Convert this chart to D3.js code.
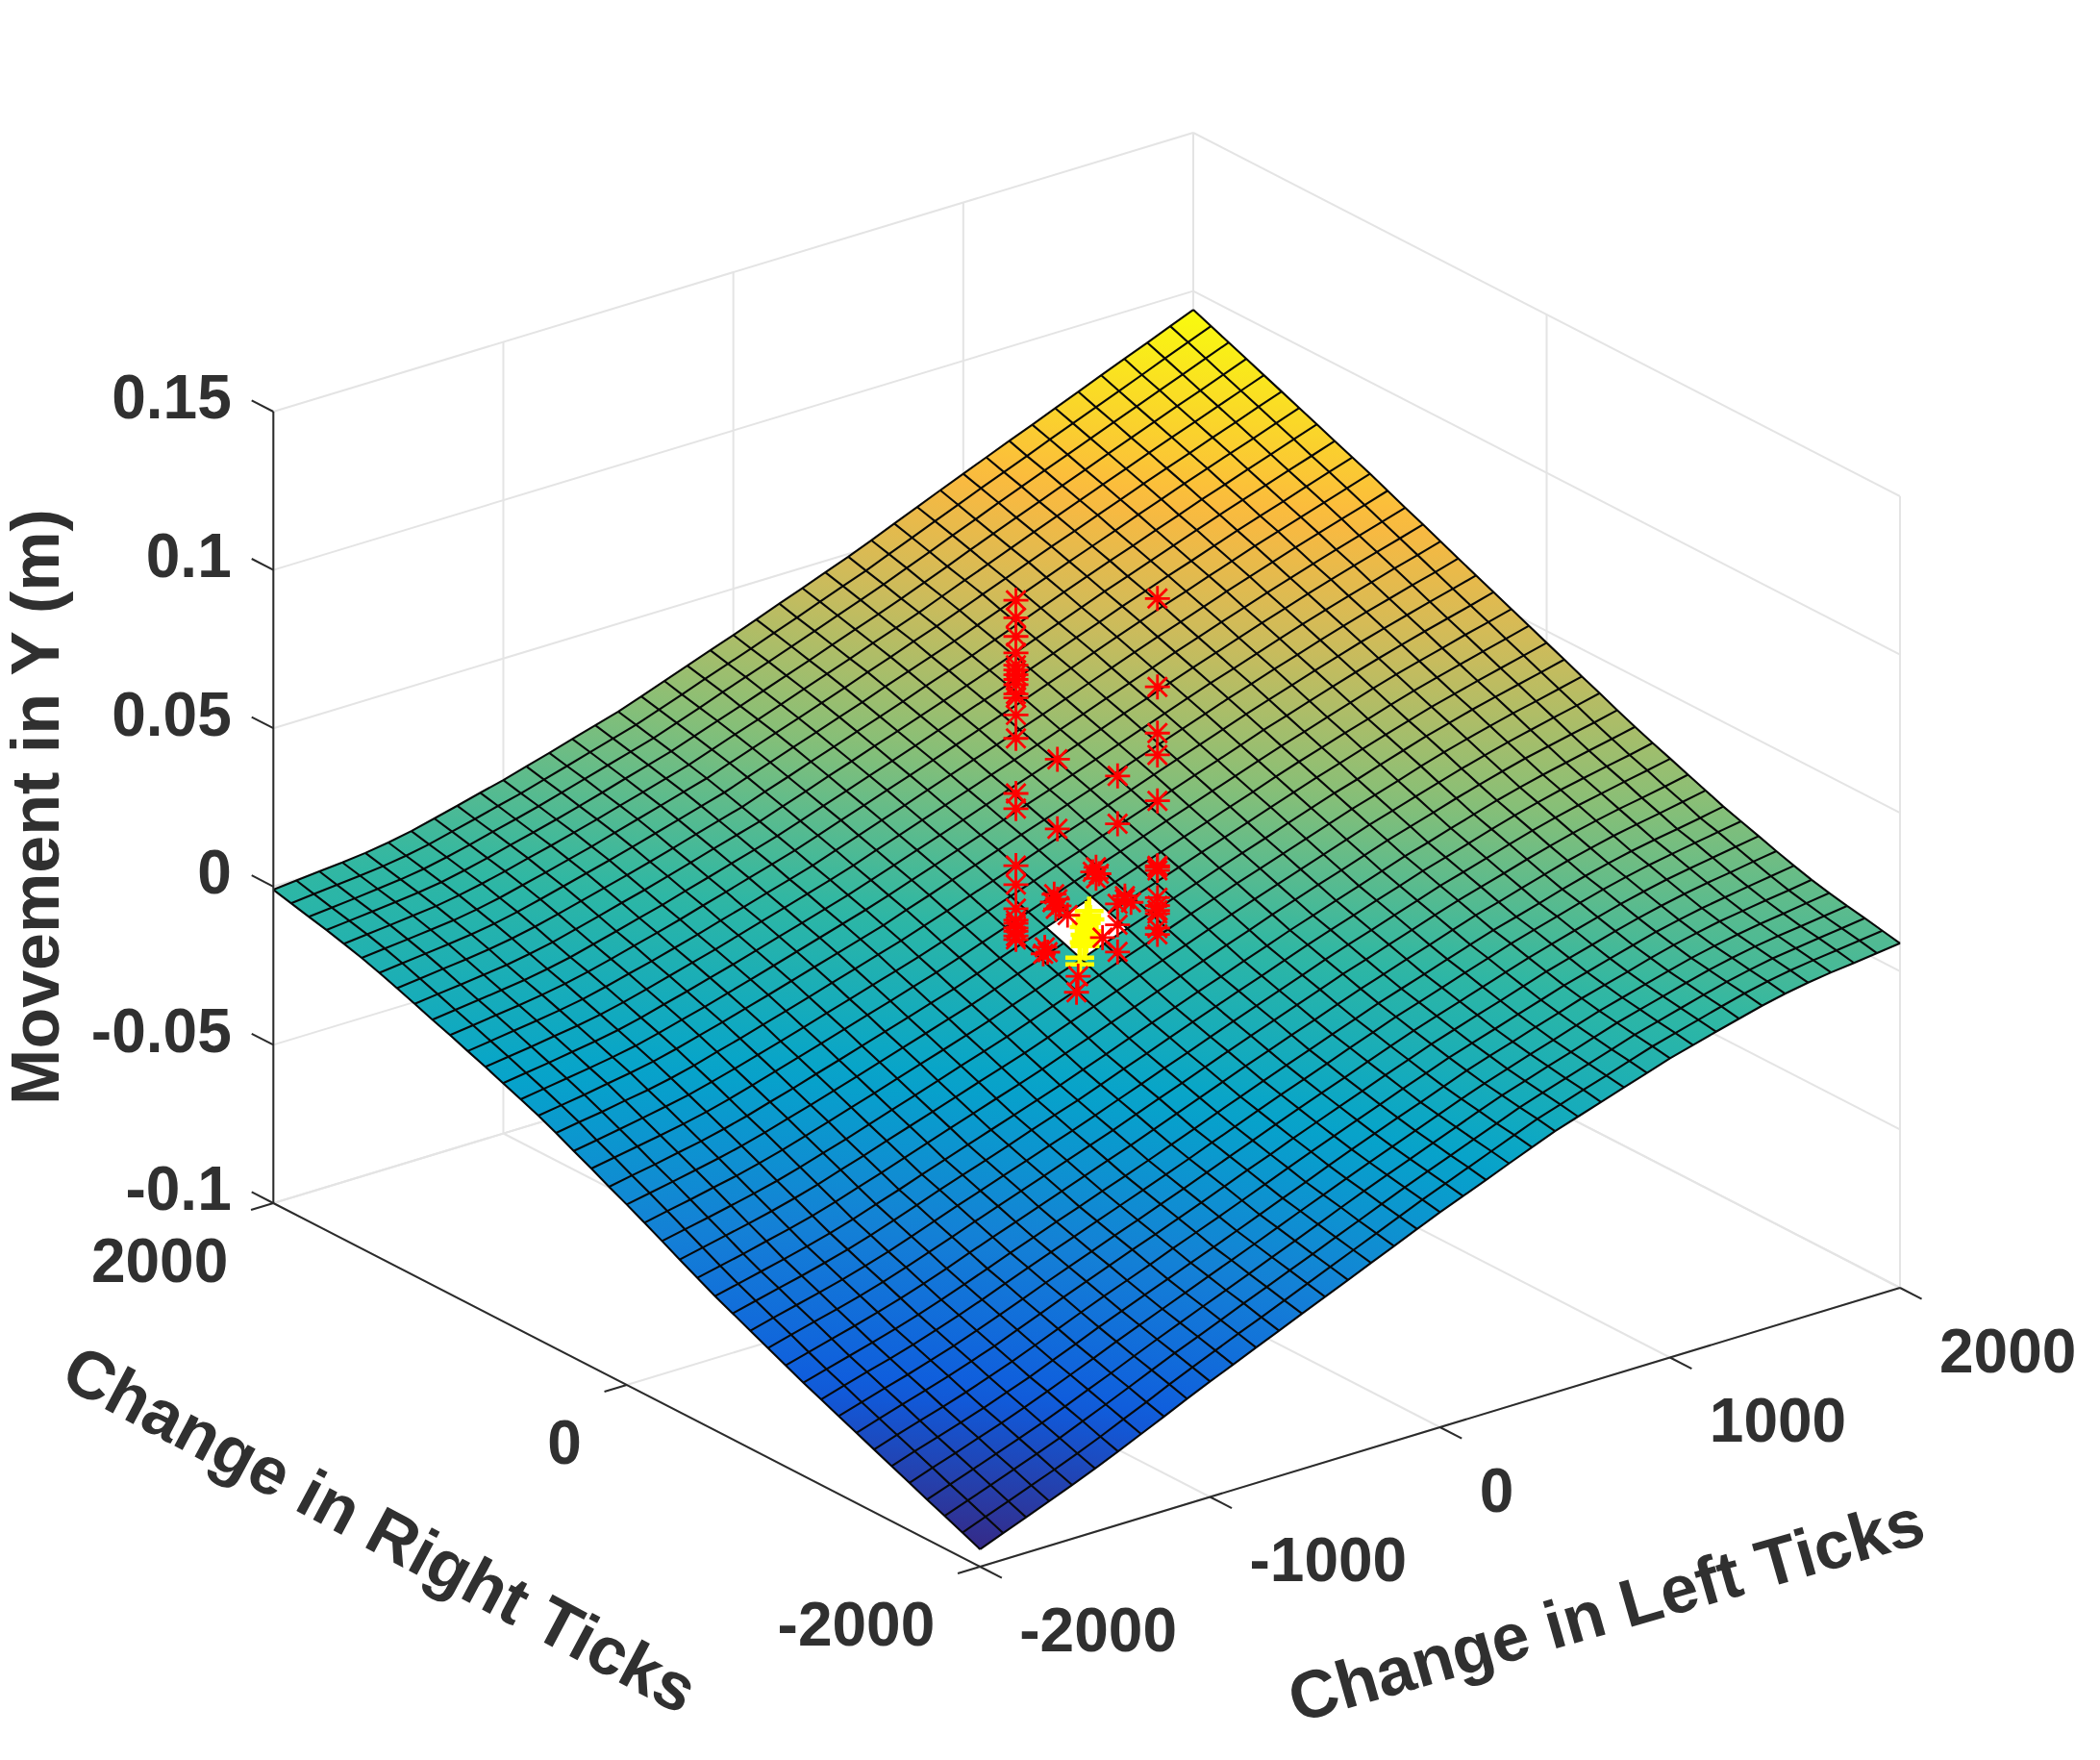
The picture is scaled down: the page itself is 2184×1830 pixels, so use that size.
<!DOCTYPE html>
<html>
<head>
<meta charset="utf-8">
<script src="https://cdn.jsdelivr.net/npm/d3@7"></script>
<style>
  html, body { margin: 0; padding: 0; background: #fff; }
  text { font-family: "Liberation Sans", Arial, sans-serif; font-weight: bold; fill: #303030; }
</style>
</head>
<body>
<div id="chart"></div>
<script>
const leftTicks = [-2000, -1000, 0, 1000, 2000];
const rightTicks = [-2000, 0, 2000];
const heightTicks = [-0.1, -0.05, 0, 0.05, 0.1, 0.15];
const heightTickLabels = ['-0.1', '-0.05', '0', '0.05', '0.1', '0.15'];

// mesh positions, one step per 100 ticks
const meshLeft = d3.range(-2000, 2001, 100);
const meshRight = d3.range(-2000, 2001, 100);

// surface height, in 0.1 mm
// one row per meshRight value, one column per meshLeft value, centre sample is missing
const heightRows = [
[-945,-916,-888,-859,-830,-800,-768,-735,-702,-668,-635,-604,-572,-541,-509,-478,-447,-415,-384,-352,-321,-292,-263,-233,-204,-175,-151,-127,-103,-79,-55,-35,-15,4,23,39,52,62,70,79,88],
[-921,-893,-866,-838,-810,-781,-750,-717,-685,-651,-619,-588,-557,-527,-496,-465,-434,-403,-372,-341,-310,-281,-252,-223,-194,-165,-141,-117,-94,-70,-46,-26,-6,14,33,49,62,72,81,90,99],
[-897,-870,-844,-816,-789,-761,-730,-699,-667,-635,-603,-573,-543,-512,-482,-452,-422,-391,-361,-330,-300,-271,-243,-214,-186,-157,-133,-109,-86,-62,-38,-18,2,22,41,57,71,81,91,100,110],
[-874,-848,-822,-796,-769,-742,-712,-681,-651,-619,-588,-558,-528,-499,-469,-439,-409,-379,-348,-318,-289,-261,-232,-204,-175,-148,-124,-100,-77,-53,-29,-9,11,31,50,66,80,91,100,110,120],
[-850,-824,-800,-774,-749,-722,-693,-663,-633,-602,-572,-543,-514,-484,-455,-426,-396,-366,-337,-307,-278,-250,-222,-194,-166,-139,-115,-91,-68,-44,-20,0,20,40,59,75,89,101,111,122,132],
[-826,-801,-778,-754,-730,-703,-676,-646,-616,-585,-556,-527,-499,-470,-442,-413,-384,-354,-325,-295,-266,-238,-210,-183,-155,-127,-103,-80,-56,-33,-9,11,31,52,71,87,102,113,124,134,145],
[-802,-778,-755,-733,-709,-683,-656,-627,-597,-567,-538,-510,-482,-453,-425,-397,-368,-339,-309,-280,-252,-224,-197,-169,-142,-115,-91,-68,-44,-21,3,23,44,64,84,100,115,127,139,150,161],
[-778,-755,-732,-710,-687,-662,-636,-607,-578,-548,-520,-492,-464,-437,-409,-381,-352,-323,-295,-266,-238,-210,-183,-155,-128,-101,-77,-53,-30,-6,18,39,59,80,99,116,131,144,155,167,178],
[-754,-732,-710,-689,-666,-642,-616,-588,-560,-531,-503,-476,-448,-421,-393,-366,-337,-308,-280,-251,-223,-196,-169,-141,-114,-87,-63,-39,-15,9,33,54,75,95,115,132,148,161,173,185,197],
[-730,-708,-687,-667,-645,-621,-596,-569,-540,-512,-485,-458,-431,-404,-377,-350,-322,-293,-265,-236,-208,-181,-154,-126,-99,-72,-48,-24,1,25,49,70,91,112,132,149,165,178,191,203,215],
[-706,-685,-665,-645,-624,-601,-576,-549,-522,-494,-467,-440,-414,-387,-361,-334,-306,-278,-249,-221,-193,-166,-139,-112,-85,-58,-34,-10,15,39,63,83,104,126,146,164,180,194,206,219,233],
[-680,-660,-640,-621,-600,-578,-554,-528,-500,-473,-447,-421,-394,-368,-341,-315,-287,-259,-231,-203,-175,-148,-121,-95,-68,-41,-17,8,32,57,81,101,123,144,165,183,200,214,227,241,255],
[-654,-634,-615,-597,-577,-555,-531,-505,-479,-452,-426,-400,-374,-348,-322,-296,-268,-240,-213,-185,-157,-130,-103,-77,-50,-23,1,26,50,75,99,120,141,163,183,202,219,234,247,261,276],
[-628,-609,-591,-573,-554,-533,-510,-484,-458,-431,-406,-380,-355,-329,-304,-278,-250,-223,-195,-168,-140,-113,-86,-60,-33,-6,19,43,68,92,117,138,160,182,203,222,239,254,269,283,298],
[-602,-584,-566,-549,-530,-510,-487,-462,-436,-410,-385,-360,-335,-309,-284,-259,-232,-204,-177,-149,-122,-95,-68,-42,-15,12,37,61,86,110,135,156,178,201,222,241,259,274,289,303,319],
[-576,-559,-542,-525,-507,-487,-465,-440,-416,-390,-365,-340,-315,-290,-265,-240,-213,-186,-158,-131,-104,-77,-51,-24,2,29,54,79,103,128,153,174,197,219,241,260,278,294,310,325,341],
[-547,-531,-515,-497,-480,-461,-439,-415,-391,-366,-341,-316,-292,-267,-243,-218,-191,-164,-137,-110,-83,-56,-30,-3,23,50,75,100,124,149,174,196,218,241,262,282,301,317,333,348,365],
[-518,-502,-486,-470,-453,-434,-413,-389,-366,-341,-317,-293,-269,-244,-220,-196,-169,-142,-115,-88,-61,-35,-9,18,44,70,95,120,145,170,195,217,240,262,284,304,323,340,357,373,390],
[-488,-473,-458,-442,-426,-408,-387,-364,-342,-318,-294,-270,-246,-221,-197,-173,-146,-120,-93,-67,-40,-14,12,39,65,91,116,141,166,191,216,238,261,285,307,327,346,364,380,397,414],
[-459,-444,-430,-414,-399,-381,-361,-339,-316,-293,-270,-246,-222,-199,-175,-151,-124,-98,-71,-45,-18,8,34,59,85,111,136,161,187,212,237,259,283,306,329,349,369,387,404,421,439],
[-430,-416,-402,-387,-372,-355,-335,-313,-292,-269,-246,-223,-199,-176,-152,-129,-103,-76,-50,-23,null,29,55,80,106,132,157,182,208,233,258,281,304,327,349,371,390,409,427,445,463],
[-403,-389,-376,-361,-347,-330,-311,-289,-268,-245,-223,-200,-177,-154,-131,-108,-82,-55,-29,-2,24,50,75,101,126,152,177,203,228,254,279,302,326,348,371,393,413,432,451,469,488],
[-374,-361,-348,-335,-321,-305,-286,-265,-243,-221,-199,-176,-153,-131,-108,-85,-60,-34,-8,18,44,70,96,121,147,173,198,224,249,275,300,323,347,371,394,416,436,455,475,493,512],
[-347,-335,-322,-309,-295,-280,-261,-241,-220,-199,-177,-154,-132,-109,-87,-64,-39,-13,13,39,65,91,116,142,167,193,219,245,270,296,322,345,369,393,416,438,459,479,498,517,537],
[-319,-307,-296,-283,-271,-256,-238,-217,-197,-175,-154,-132,-109,-87,-64,-42,-17,8,34,59,85,111,137,162,188,214,240,266,291,317,343,367,391,415,438,461,482,502,522,541,561],
[-293,-282,-271,-258,-246,-232,-214,-194,-174,-153,-132,-110,-88,-66,-44,-22,4,29,55,80,106,132,157,183,208,234,260,286,312,338,364,388,413,436,460,483,505,525,546,565,586],
[-270,-259,-248,-237,-225,-211,-193,-173,-154,-133,-112,-90,-68,-46,-24,-2,22,48,73,99,124,150,176,201,227,253,279,305,332,358,384,408,433,458,482,505,527,548,570,590,611],
[-248,-237,-227,-215,-204,-190,-173,-153,-134,-113,-93,-71,-49,-28,-6,16,41,66,92,117,143,169,195,220,246,272,298,325,351,378,404,429,454,479,503,527,550,572,593,614,636],
[-225,-215,-205,-194,-183,-170,-153,-134,-114,-94,-74,-52,-30,-9,13,35,59,85,110,136,161,187,213,238,264,290,317,344,370,397,424,449,475,499,524,548,571,594,616,638,660],
[-204,-194,-184,-174,-163,-150,-133,-114,-96,-76,-56,-34,-13,9,30,52,78,103,129,154,180,206,232,257,283,309,336,363,390,417,444,469,495,521,546,570,594,617,640,662,685],
[-182,-173,-163,-154,-143,-130,-114,-96,-76,-57,-37,-15,6,28,49,71,96,122,147,173,198,224,250,276,302,328,355,382,410,437,464,490,515,541,566,592,616,639,663,686,710],
[-162,-153,-144,-135,-125,-112,-97,-78,-59,-39,-20,2,23,45,66,88,113,139,164,190,215,241,267,293,319,345,373,400,428,455,483,509,535,560,586,612,636,660,685,709,733],
[-141,-132,-124,-115,-106,-93,-78,-59,-40,-20,-1,20,41,63,84,105,131,156,182,207,233,258,284,310,336,362,390,418,445,473,501,527,554,580,607,633,658,682,707,731,756],
[-120,-112,-103,-95,-85,-73,-58,-40,-21,-2,17,37,58,80,101,122,148,173,199,224,250,275,301,328,354,380,408,436,464,492,520,547,573,600,626,653,678,704,729,755,780],
[-100,-92,-84,-76,-67,-55,-40,-22,-3,16,35,55,76,97,118,139,165,190,216,241,267,292,319,345,371,397,425,453,482,510,538,565,592,620,647,674,700,726,751,777,803],
[-82,-74,-67,-59,-51,-39,-24,-6,12,31,50,71,92,113,134,155,181,206,232,257,283,309,336,362,389,415,443,472,500,529,557,584,612,639,667,694,720,747,773,800,826],
[-66,-58,-51,-43,-35,-23,-8,9,28,46,65,85,106,127,148,169,195,221,246,272,298,324,350,377,403,430,459,488,516,545,574,602,630,658,686,714,741,768,795,822,849],
[-51,-44,-37,-29,-21,-10,5,22,41,59,78,98,119,141,162,183,209,235,260,286,312,338,365,392,418,445,474,503,533,562,591,619,648,676,705,733,761,789,816,844,872],
[-38,-31,-24,-16,-8,3,18,35,54,72,91,112,133,154,175,196,222,248,275,301,327,353,380,407,434,461,491,520,550,579,609,638,667,695,724,753,781,810,838,867,895],
[-24,-17,-10,-3,5,16,30,48,66,85,103,124,145,167,188,209,235,261,288,314,340,367,394,422,449,476,506,536,566,596,626,655,684,714,743,772,801,830,860,889,918],
[-10,-3,4,10,18,29,43,61,79,98,116,137,158,180,201,222,248,275,301,328,354,381,409,436,464,491,521,552,582,613,643,673,703,732,762,792,822,852,881,911,941]
];

// red star markers
const redLeft = [-174,-174,-174,-174,-174,-174,-174,-174,-174,-174,-174,-174,-174,-174,-174,-174,-174,-174,-174,-174,-174,-174,-174,-174,
  174,174,174,174,174,174,174,174,174,174,174,174,174,174,
  -72,-72,-80,-72,-84,-68,-76, 76,76,76,76,76,
  23,15,30,23,-47,94,109,94,-103,-96,-107,-21,-25,39];
const redRight = redLeft.map(d => -d);
const redHeight = [0.1026,0.0971,0.0912,0.0860,0.0821,0.0806,0.0791,0.0776,0.0760,0.0730,0.0718,0.0664,0.0590,0.0416,0.0368,0.0188,0.0128,0.0052,0.0016,0.0006,-0.0009,-0.0019,-0.0034,-0.0045,
  0.1055,0.0776,0.0630,0.0561,0.0416,0.0211,0.0206,0.0196,0.0110,0.0085,0.0070,0.0060,0.0014,-0.0006,
  0.0531,0.0311,0.0104,0.0089,0.0079,0.0068,0.0058, 0.0488,0.0337,0.0084,0.0018,-0.0068,
  0.0196,0.0181,0.0176,0.0161,0.0040,0.0100,0.0091,0.0110,-0.0065,-0.0080,-0.0086,-0.0151,-0.0202,-0.0025];

// yellow plus markers
const yellowLeft = [6,0,8,-1,-6,6,-4,-1,-6,-4,-17,-17];
const yellowRight = yellowLeft.map(d => -d);
const yellowHeight = [0.0057,0.0042,0.0030,0.0018,0.0005,-0.0007,-0.0019,-0.0031,-0.0043,-0.0055,-0.0092,-0.0113];

const colorStops = [-945, -709, -474, -238, -2, 234, 469, 640, 941];
const colorValues = ['#352a87', '#0f5cdd', '#1481d6', '#06a4ca', '#2eb7a4', '#87bf77', '#d1bb59', '#fbb93f', '#f9fb0e'];

const width = 2184, height = 1830;

// orthographic view: each axis has its own on-screen x and y contribution
const leftToX = d3.scaleLinear().domain([-2000, 2000]).range([0, 956.7]);
const leftToY = d3.scaleLinear().domain([-2000, 2000]).range([0, -290]);
const rightToX = d3.scaleLinear().domain([-2000, 2000]).range([0, -735]);
const rightToY = d3.scaleLinear().domain([-2000, 2000]).range([0, -378]);
const heightToY = d3.scaleLinear().domain([-0.1, 0.15]).range([0, -823]);
const originX = 1019.3, originY = 1629;

const project = (l, r, h) => [
    originX + leftToX(l) + rightToX(r),
    originY + leftToY(l) + rightToY(r) + heightToY(h),
];

const color = d3.scaleLinear().domain(colorStops).range(colorValues);

const svg = d3.select('#chart').append('svg')
    .attr('width', width)
    .attr('height', height)
    .style('display', 'block');
const defs = svg.append('defs');

const segment = (g, a, b, stroke) => g.append('line')
    .attr('x1', a[0]).attr('y1', a[1])
    .attr('x2', b[0]).attr('y2', b[1])
    .attr('stroke', stroke)
    .attr('stroke-width', 2);

// back walls and floor
const gridColor = '#e4e4e4';
const walls = svg.append('g');
const zMin = -0.1, zMax = 0.15;
heightTicks.forEach(h => {
    segment(walls, project(-2000, 2000, h), project(2000, 2000, h), gridColor);
    segment(walls, project(2000, 2000, h), project(2000, -2000, h), gridColor);
});
leftTicks.forEach(l => {
    segment(walls, project(l, 2000, zMin), project(l, 2000, zMax), gridColor);
    segment(walls, project(l, -2000, zMin), project(l, 2000, zMin), gridColor);
});
rightTicks.forEach(r => {
    segment(walls, project(2000, r, zMin), project(2000, r, zMax), gridColor);
    segment(walls, project(-2000, r, zMin), project(2000, r, zMin), gridColor);
});

// surface patches, back to front, each with a gradient along its height slope
const cells = [];
for (let j = meshRight.length - 2; j >= 0; j--) {
    for (let i = meshLeft.length - 2; i >= 0; i--) {
        const corners = [[i, j], [i + 1, j], [i + 1, j + 1], [i, j + 1]];
        if (corners.some(([a, b]) => heightRows[b][a] === null)) continue;
        cells.push({ id: `c${i}_${j}`, corners });
    }
}

const vertex = ([a, b]) => project(meshLeft[a], meshRight[b], heightRows[b][a] / 10000);

cells.forEach(cell => {
    const pts = cell.corners.map(vertex);
    const zs = cell.corners.map(([a, b]) => heightRows[b][a]);
    const e1 = [pts[1][0] - pts[0][0], pts[1][1] - pts[0][1]];
    const e2 = [pts[3][0] - pts[0][0], pts[3][1] - pts[0][1]];
    const d1 = zs[1] - zs[0], d2 = zs[3] - zs[0];
    const det = e1[0] * e2[1] - e1[1] * e2[0];
    const gx = (d1 * e2[1] - d2 * e1[1]) / det;
    const gy = (e1[0] * d2 - e2[0] * d1) / det;
    const norm = gx * gx + gy * gy;
    const lo = d3.min(zs), hi = d3.max(zs);
    const grad = defs.append('linearGradient')
        .attr('id', cell.id)
        .attr('gradientUnits', 'userSpaceOnUse')
        .attr('x1', pts[0][0] + gx / norm * (lo - zs[0]))
        .attr('y1', pts[0][1] + gy / norm * (lo - zs[0]))
        .attr('x2', pts[0][0] + gx / norm * (hi - zs[0]))
        .attr('y2', pts[0][1] + gy / norm * (hi - zs[0]));
    grad.append('stop').attr('offset', 0).attr('stop-color', color(lo));
    grad.append('stop').attr('offset', 1).attr('stop-color', color(hi));
    cell.points = pts;
});

svg.append('g')
    .selectAll('polygon')
    .data(cells)
    .enter()
    .append('polygon')
    .attr('points', d => d.points.map(p => p.join(',')).join(' '))
    .attr('fill', d => `url(#${d.id})`);

// mesh lines, broken at the missing sample
const meshLine = d3.line()
    .defined(d => d[2] !== null)
    .x(d => project(d[0], d[1], d[2] / 10000)[0])
    .y(d => project(d[0], d[1], d[2] / 10000)[1]);
const meshPaths = [];
meshRight.forEach((r, j) => meshPaths.push(meshLeft.map((l, i) => [l, r, heightRows[j][i]])));
meshLeft.forEach((l, i) => meshPaths.push(meshRight.map((r, j) => [l, r, heightRows[j][i]])));
svg.append('g')
    .selectAll('path')
    .data(meshPaths)
    .enter()
    .append('path')
    .attr('d', meshLine)
    .attr('fill', 'none')
    .attr('stroke', '#080808')
    .attr('stroke-width', 2.1);

// markers
const yellow = svg.append('g')
    .attr('stroke', '#ffff00')
    .attr('stroke-width', 4.5);
yellowLeft.forEach((l, k) => {
    const [x, y] = project(l, yellowRight[k], yellowHeight[k]);
    yellow.append('path').attr('d', `M${x - 15},${y}H${x + 15}M${x},${y - 15}V${y + 15}`);
});

const red = svg.append('g')
    .attr('stroke', '#ff0000')
    .attr('stroke-width', 2.8);
redLeft.forEach((l, k) => {
    const [x, y] = project(l, redRight[k], redHeight[k]);
    red.append('path').attr('d', `M${x - 13},${y}H${x + 13}M${x},${y - 13}V${y + 13}`
        + `M${x - 10},${y - 10}L${x + 10},${y + 10}M${x - 10},${y + 10}L${x + 10},${y - 10}`);
});

// axes
const axisColor = '#2b2b2b';
const axes = svg.append('g');
segment(axes, project(-2000, 2000, zMin), project(-2000, 2000, zMax), axisColor);
segment(axes, project(-2000, -2000, zMin), project(2000, -2000, zMin), axisColor);
segment(axes, project(-2000, -2000, zMin), project(-2000, 2000, zMin), axisColor);

const tickSize = 0.0307;
const tickFont = 64;
const labelFont = 70;

heightTicks.forEach((h, k) => {
    const p = project(-2000, 2000, h);
    const q = project(-2000, 2000 + 4000 * tickSize, h);
    segment(axes, p, q, axisColor);
    svg.append('text')
        .attr('x', q[0] - 21)
        .attr('y', q[1] + 19)
        .attr('text-anchor', 'end')
        .attr('font-size', tickFont)
        .text(heightTickLabels[k]);
});

leftTicks.forEach(l => {
    const p = project(l, -2000, zMin);
    segment(axes, p, project(l, -2000 - 4000 * tickSize, zMin), axisColor);
    svg.append('text')
        .attr('x', p[0] + 41)
        .attr('y', p[1] + 87.5)
        .attr('font-size', tickFont)
        .text(l);
});

rightTicks.forEach(r => {
    const p = project(-2000, r, zMin);
    segment(axes, p, project(-2000 - 4000 * 0.0243, r, zMin), axisColor);
    svg.append('text')
        .attr('x', p[0] - 47)
        .attr('y', p[1] + 81.5)
        .attr('text-anchor', 'end')
        .attr('font-size', tickFont)
        .text(r);
});

const axisLabel = (txt, x, y, angle) => svg.append('text')
    .attr('transform', `translate(${x},${y}) rotate(${angle})`)
    .attr('text-anchor', 'middle')
    .attr('dy', '0.36em')
    .attr('font-size', labelFont)
    .text(txt);

axisLabel('Movement in Y (m)', 36, 839, -90);
axisLabel('Change in Right Ticks', 396, 1589, 28);
axisLabel('Change in Left Ticks', 1670, 1673, -16);
</script>
</body>
</html>
